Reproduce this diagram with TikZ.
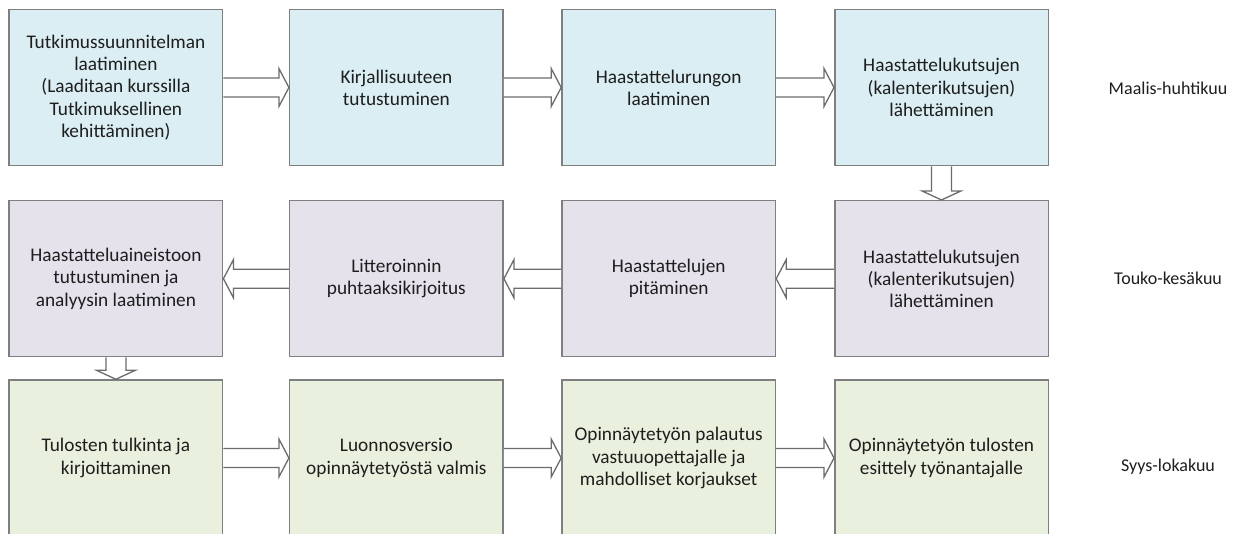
\documentclass[tikz,border=0pt]{standalone}
\usepackage{fontspec}
\setmainfont{Carlito}
\usetikzlibrary{calc}
\definecolor{rowblue}{HTML}{DAEEF3}
\definecolor{rowpurple}{HTML}{E6E2EC}
\definecolor{rowgreen}{HTML}{EAF0DE}
\definecolor{edgegray}{HTML}{7F7F7F}
\definecolor{txtgray}{HTML}{1E1E1E}
\tikzset{
  stagebox/.style={draw=edgegray, line width=1.5pt, minimum width=213.5pt, minimum height=156pt,
    inner sep=0pt, align=center, text=txtgray, font=\fontsize{19.3}{22.2}\selectfont},
  bluebox/.style={stagebox, fill=rowblue},
  purplebox/.style={stagebox, fill=rowpurple},
  greenbox/.style={stagebox, fill=rowgreen},
  monthlabel/.style={text=txtgray, font=\fontsize{18}{22.2}\selectfont},
  blockarrow/.style={draw=edgegray!85!black, line width=1.3pt, fill=white, line join=miter}
}
\newcommand{\blockRight}[2]{%
  \draw[blockarrow] ($(#1.east)+(0,-9.5)$) -- ($(#2.west)+(-10,-9.5)$) -- ($(#2.west)+(-10,-19)$)
    -- (#2.west) -- ($(#2.west)+(-10,19)$) -- ($(#2.west)+(-10,9.5)$) -- ($(#1.east)+(0,9.5)$);}
\newcommand{\blockLeft}[2]{%
  \draw[blockarrow] ($(#1.west)+(0,-9.5)$) -- ($(#2.east)+(10,-9.5)$) -- ($(#2.east)+(10,-19)$)
    -- (#2.east) -- ($(#2.east)+(10,19)$) -- ($(#2.east)+(10,9.5)$) -- ($(#1.west)+(0,9.5)$);}
\newcommand{\blockDown}[2]{%
  \draw[blockarrow] ($(#1.south)+(-10,0)$) -- ($(#2.north)+(-10,-9)$) -- ($(#2.north)+(-19.5,-9)$)
    -- (#2.north) -- ($(#2.north)+(19.5,-9)$) -- ($(#2.north)+(10,-9)$) -- ($(#1.south)+(10,0)$);}
\begin{document}
\begin{tikzpicture}[x=1pt,y=-1pt]
\useasboundingbox[fill=white] (0,0) rectangle (1238,533);
% row 1
\node[bluebox] (a1) at (115.9,87.5) {Tutkimussuunnitelman\\laatiminen\\(Laaditaan kurssilla\\Tutkimuksellinen\\kehittäminen)};
\node[bluebox] (a2) at (396.4,87.5) {Kirjallisuuteen\\tutustuminen};
\node[bluebox] (a3) at (668.7,87.5) {Haastattelurungon\\laatiminen};
\node[bluebox] (a4) at (941.5,87.5) {Haastattelukutsujen\\(kalenterikutsujen)\\lähettäminen};
% row 2
\node[purplebox] (b1) at (115.9,278.7) {Haastatteluaineistoon\\tutustuminen ja\\analyysin laatiminen};
\node[purplebox] (b2) at (396.4,278.7) {Litteroinnin\\puhtaaksikirjoitus};
\node[purplebox] (b3) at (668.7,278.7) {Haastattelujen\\pitäminen};
\node[purplebox] (b4) at (941.5,278.7) {Haastattelukutsujen\\(kalenterikutsujen)\\lähettäminen};
% row 3
\node[greenbox] (c1) at (115.9,458) {Tulosten tulkinta ja\\kirjoittaminen};
\node[greenbox] (c2) at (396.4,458) {Luonnosversio\\opinnäytetyöstä valmis};
\node[greenbox] (c3) at (668.7,458) {Opinnäytetyön palautus\\vastuuopettajalle ja\\mahdolliset korjaukset};
\node[greenbox] (c4) at (941.5,458) {Opinnäytetyön tulosten\\esittely työnantajalle};
% month labels
\node[monthlabel] (m1) at (1168,88) {Maalis-huhtikuu};
\node[monthlabel] (m2) at (1168,278) {Touko-kesäkuu};
\node[monthlabel] (m3) at (1168,467) {Syys-lokakuu};
% arrows
\blockRight{a1}{a2}
\blockRight{a2}{a3}
\blockRight{a3}{a4}
\blockDown{a4}{b4}
\blockLeft{b4}{b3}
\blockLeft{b3}{b2}
\blockLeft{b2}{b1}
\blockDown{b1}{c1}
\blockRight{c1}{c2}
\blockRight{c2}{c3}
\blockRight{c3}{c4}
\end{tikzpicture}
\end{document}
